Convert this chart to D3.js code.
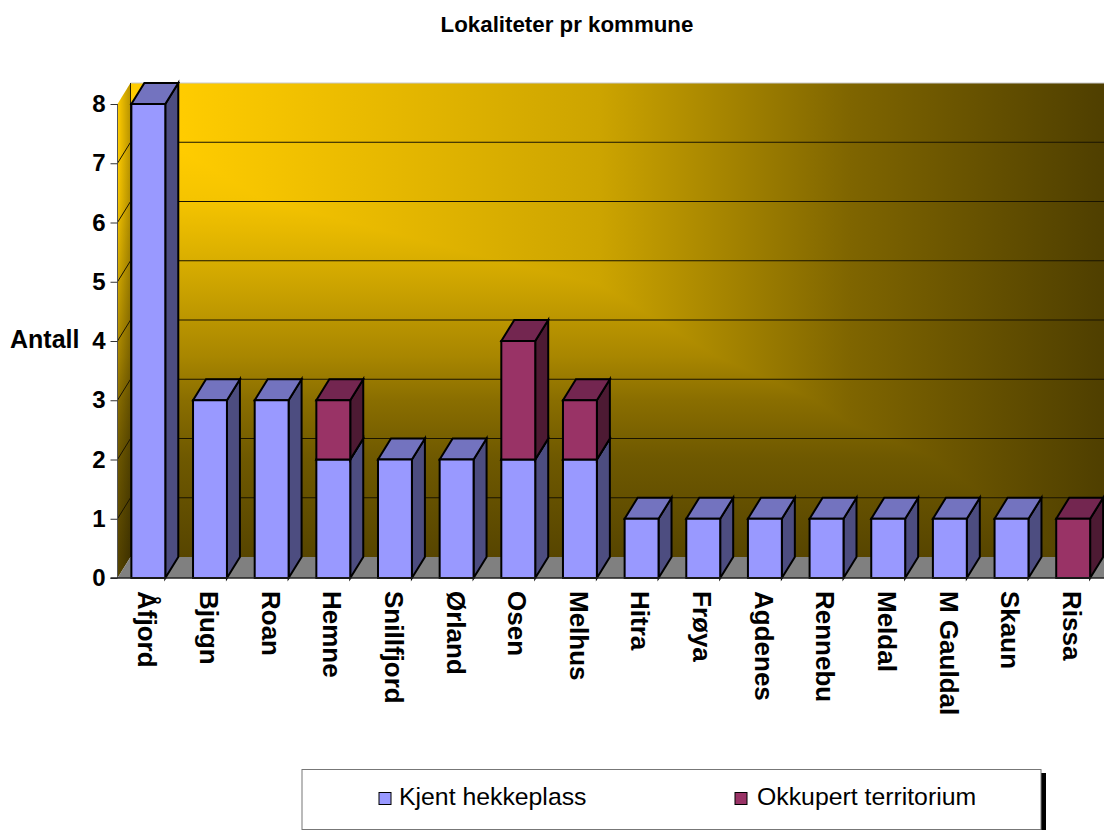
<!DOCTYPE html>
<html>
<head>
<meta charset="utf-8">
<script src="https://cdn.jsdelivr.net/npm/d3@7"></script>
<style>
  html, body { margin: 0; padding: 0; background: #fff; }
  svg { display: block; }
  text { font-family: "Liberation Sans", Arial, sans-serif; fill: #000; }
</style>
</head>
<body>
<svg id="chart" width="1104" height="830"></svg>
<script>
const kommuner = ['Åfjord', 'Bjugn', 'Roan', 'Hemne', 'Snillfjord', 'Ørland', 'Osen', 'Melhus',
  'Hitra', 'Frøya', 'Agdenes', 'Rennebu', 'Meldal', 'M Gauldal', 'Skaun', 'Rissa']
const hekkeplass = [8, 3, 3, 2, 2, 2, 2, 2, 1, 1, 1, 1, 1, 1, 1, 0]
const territorium = [0, 0, 0, 1, 0, 0, 2, 1, 0, 0, 0, 0, 0, 0, 0, 1]
const seriesNames = ['Kjent hekkeplass', 'Okkupert territorium']
const yTicks = [0, 1, 2, 3, 4, 5, 6, 7, 8]

const colors = [
  { front: '#9999ff', side: '#4d4d80', top: '#7373bf' },
  { front: '#993366', side: '#4d1a33', top: '#732650' }
]

// wall shading: [pixel position, colour]
const wallAcross = [[180, '#ffcc00'], [400, '#e5b700'], [600, '#cca400'], [850, '#7f6500'], [1104, '#4f3f00']]
const wallDown = [[150, '#ffcc00'], [200, '#f5c400'], [260, '#d9ae00'], [357, '#a88600'], [400, '#8a6e00'], [457, '#6f5900'], [557, '#574500']]

const depthX = 13
const depthY = -21

const svg = d3.select('#chart')

const x = d3.scaleBand()
  .domain(kommuner)
  .range([117.5, 1104])
  .paddingInner(0.45)
  .paddingOuter(0.225)

const y = d3.scaleLinear()
  .domain([0, 8])
  .range([578, 104])

const defs = svg.append('defs')

function addRamp (id, stops, horizontal) {
  const grad = defs.append('linearGradient')
    .attr('id', id)
    .attr('gradientUnits', 'userSpaceOnUse')
    .attr('x1', horizontal ? stops[0][0] : 0)
    .attr('x2', horizontal ? stops[stops.length - 1][0] : 0)
    .attr('y1', horizontal ? 0 : stops[0][0])
    .attr('y2', horizontal ? 0 : stops[stops.length - 1][0])
  const span = stops[stops.length - 1][0] - stops[0][0]
  stops.forEach(s => {
    grad.append('stop')
      .attr('offset', (s[0] - stops[0][0]) / span)
      .attr('stop-color', s[1])
  })
}
addRamp('wallAcross', wallAcross, true)
addRamp('wallDown', wallDown, false)

const sideGrad = defs.append('linearGradient')
  .attr('id', 'sidewall')
  .attr('x1', 0).attr('x2', 1).attr('y1', 0).attr('y2', 0)
sideGrad.append('stop').attr('offset', 0).attr('stop-color', '#000').attr('stop-opacity', 0)
sideGrad.append('stop').attr('offset', 1).attr('stop-color', '#000').attr('stop-opacity', 0.28)

const x0 = x.range()[0]
const x1 = x.range()[1]
const poly = pts => pts.map(p => p.join(',')).join(' ')

// walls and floor. the darken blend makes the two ramps meet like a rectangular gradient
const wall = svg.append('g').style('isolation', 'isolate')
wall.append('rect')
  .attr('x', x0 + depthX).attr('y', y(8) + depthY)
  .attr('width', x1 - x0 - depthX).attr('height', y(0) - y(8))
  .attr('fill', 'url(#wallAcross)')
wall.append('rect')
  .attr('x', x0 + depthX).attr('y', y(8) + depthY)
  .attr('width', x1 - x0 - depthX).attr('height', y(0) - y(8))
  .attr('fill', 'url(#wallDown)')
  .style('mix-blend-mode', 'darken')

const sidePts = poly([[x0, y(0)], [x0, y(8)], [x0 + depthX, y(8) + depthY], [x0 + depthX, y(0) + depthY]])
svg.append('polygon').attr('points', sidePts).attr('fill', 'url(#wallDown)')
svg.append('polygon').attr('points', sidePts).attr('fill', 'url(#sidewall)')

svg.append('polygon')
  .attr('points', poly([[x0, y(0)], [x0 + depthX, y(0) + depthY], [x1, y(0) + depthY], [x1, y(0)]]))
  .attr('fill', '#808080')

svg.append('line')
  .attr('x1', x0 + depthX).attr('x2', x1)
  .attr('y1', y(8) + depthY).attr('y2', y(8) + depthY)
  .attr('stroke', '#c8c8c8').attr('stroke-width', 1)

// gridlines on the wall and the side wall
const grid = svg.append('g').attr('stroke', '#1a1400').attr('stroke-width', 1)
yTicks.filter(t => t > 0 && t < 8).forEach(t => {
  grid.append('line')
    .attr('x1', x0 + depthX).attr('x2', x1)
    .attr('y1', y(t) + depthY).attr('y2', y(t) + depthY)
  grid.append('line')
    .attr('x1', x0).attr('x2', x0 + depthX)
    .attr('y1', y(t)).attr('y2', y(t) + depthY)
})
svg.append('line')
  .attr('x1', x0).attr('x2', x0)
  .attr('y1', y(0)).attr('y2', y(8))
  .attr('stroke', '#555').attr('stroke-width', 1)
svg.append('line')
  .attr('x1', x0 + depthX).attr('x2', x0 + depthX)
  .attr('y1', y(0) + depthY).attr('y2', y(8) + depthY)
  .attr('stroke', '#2a2000').attr('stroke-width', 1)

// stacked 3d bars
const stack = kommuner.map((k, i) => {
  const a = hekkeplass[i]
  const b = territorium[i]
  return [
    { k, s: 0, y0: 0, y1: a },
    { k, s: 1, y0: a, y1: a + b }
  ].filter(d => d.y1 > d.y0)
})

const bars = svg.append('g')
  .attr('stroke', '#000')
  .attr('stroke-width', 2)
  .attr('stroke-linejoin', 'miter')

stack.flat().forEach(d => {
  const l = x(d.k)
  const r = l + x.bandwidth()
  const t = y(d.y1)
  const b = y(d.y0)
  const g = bars.append('g')
  g.append('polygon')
    .attr('points', poly([[r, b], [r, t], [r + depthX, t + depthY], [r + depthX, b + depthY]]))
    .attr('fill', colors[d.s].side)
  g.append('polygon')
    .attr('points', poly([[l, t], [l + depthX, t + depthY], [r + depthX, t + depthY], [r, t]]))
    .attr('fill', colors[d.s].top)
  g.append('rect')
    .attr('x', l).attr('y', t)
    .attr('width', x.bandwidth()).attr('height', b - t)
    .attr('fill', colors[d.s].front)
})

// axes
const yAxis = svg.append('g')
  .attr('transform', `translate(${x0},0)`)
  .call(d3.axisLeft(y).tickValues(yTicks).tickSize(7).tickPadding(5).tickFormat(d3.format('d')))
yAxis.select('.domain').remove()
yAxis.selectAll('line').attr('stroke', '#333')
yAxis.selectAll('text')
  .style('font-size', '24px')
  .style('font-weight', 'bold')
  .style('font-family', '"Liberation Sans", Arial, sans-serif')
  .attr('fill', '#000')

svg.append('line')
  .attr('x1', x0 - 7).attr('x2', x1)
  .attr('y1', y(0)).attr('y2', y(0))
  .attr('stroke', '#222').attr('stroke-width', 1.5)

const xAxis = svg.append('g')
  .attr('transform', `translate(-1,${y(0)})`)
  .call(d3.axisBottom(x).tickSize(0))
xAxis.select('.domain').remove()
xAxis.selectAll('text')
  .attr('transform', 'rotate(90)')
  .attr('x', 13)
  .attr('y', 0)
  .attr('dy', '0.35em')
  .attr('text-anchor', 'start')
  .style('font-size', '26px')
  .style('font-weight', 'bold')
  .style('font-family', '"Liberation Sans", Arial, sans-serif')
  .attr('fill', '#000')

// titles
svg.append('text')
  .attr('x', 567).attr('y', 31.5)
  .attr('text-anchor', 'middle')
  .style('font-size', '22.3px')
  .style('font-weight', 'bold')
  .text('Lokaliteter pr kommune')

svg.append('text')
  .attr('x', 10).attr('y', 348)
  .style('font-size', '25px')
  .style('font-weight', 'bold')
  .text('Antall')

// legend
svg.append('rect')
  .attr('x', 1041).attr('y', 773)
  .attr('width', 5).attr('height', 57)
  .attr('fill', '#000')
svg.append('rect')
  .attr('x', 302).attr('y', 769.5)
  .attr('width', 739).attr('height', 60)
  .attr('fill', '#fff')
  .attr('stroke', '#777')
  .attr('stroke-width', 1)

const legendX = [379, 735]
const legendTextX = [399, 757]
seriesNames.forEach((name, i) => {
  svg.append('rect')
    .attr('x', legendX[i]).attr('y', 792.5)
    .attr('width', 12).attr('height', 12)
    .attr('fill', colors[i].front)
    .attr('stroke', '#000')
    .attr('stroke-width', 1)
  svg.append('text')
    .attr('x', legendTextX[i]).attr('y', 805)
    .style('font-size', '24.8px')
    .text(name)
})
</script>
</body>
</html>
